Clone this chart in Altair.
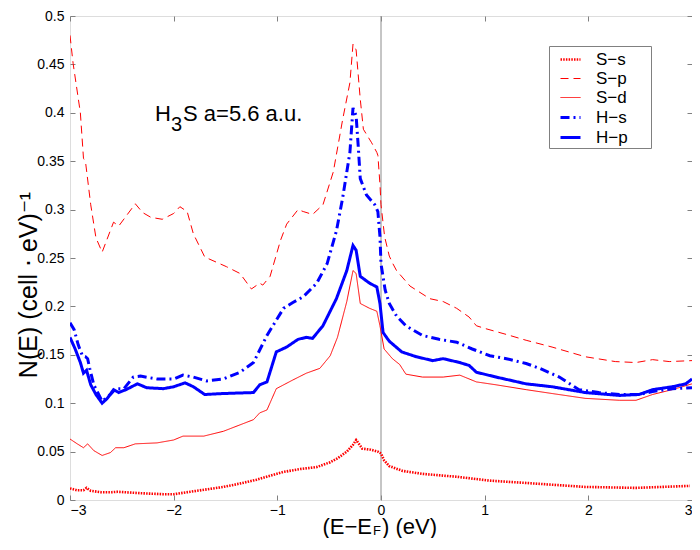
import altair as alt
import pandas as pd

FONT = "Liberation Sans"

series_names = ["S−s", "S−p", "S−d", "H−s", "H−p"]
series_colors = ["#ff0000", "#ff0000", "#ff0000", "#0000ff", "#0000ff"]
series_dash = [[1.5, 1.2], [8, 5], [1, 0], [9, 4, 2, 4], [1, 0]]
series_width = [2.6, 1.0, 1.0, 3.0, 3.0]

ss_x = [-3.00, -2.93, -2.87, -2.84, -2.80, -2.70, -2.60, -2.54, -2.32, -2.10, -2.00, -1.84, -1.68,
        -1.52, -1.36, -1.20, -1.04, -0.94, -0.78, -0.62, -0.49, -0.42, -0.33, -0.27, -0.24, -0.22,
        -0.18, -0.10, -0.03, 0.00, 0.03, 0.08, 0.21, 0.40, 0.73, 1.05, 1.40, 1.97, 2.46, 2.98]
ss_y = [0.012, 0.010, 0.010, 0.0125, 0.0095, 0.008, 0.008, 0.0085, 0.007, 0.006, 0.006, 0.0085, 0.011,
        0.0135, 0.017, 0.021, 0.026, 0.029, 0.032, 0.034, 0.039, 0.043, 0.050, 0.057, 0.062, 0.059,
        0.053, 0.052, 0.050, 0.048, 0.041, 0.035, 0.030, 0.027, 0.024, 0.020, 0.0176, 0.0135, 0.0125, 0.0146]

sp_x = [-3.00, -2.97, -2.90, -2.87, -2.85, -2.80, -2.75, -2.69, -2.58, -2.53, -2.37, -2.30, -2.22,
        -2.11, -2.00, -1.94, -1.87, -1.81, -1.70, -1.49, -1.36, -1.25, -1.17, -1.14, -1.07, -0.97,
        -0.91, -0.80, -0.75, -0.66, -0.56, -0.46, -0.37, -0.30, -0.27, -0.24, -0.20, -0.17, -0.09,
        -0.04, -0.03, -0.01, 0.00, 0.035, 0.08, 0.115, 0.15, 0.28, 0.47, 0.60, 0.73, 0.85, 0.92,
        1.01, 1.21, 1.40, 1.65, 1.97, 2.26, 2.46, 2.62, 2.78, 3.00]
sp_y = [0.480, 0.451, 0.400, 0.353, 0.349, 0.305, 0.271, 0.256, 0.287, 0.283, 0.306, 0.297, 0.292,
        0.290, 0.296, 0.303, 0.298, 0.275, 0.251, 0.241, 0.234, 0.218, 0.224, 0.222, 0.231, 0.268,
        0.285, 0.300, 0.298, 0.295, 0.305, 0.339, 0.393, 0.431, 0.471, 0.465, 0.414, 0.383, 0.369,
        0.359, 0.356, 0.326, 0.305, 0.272, 0.252, 0.244, 0.237, 0.221, 0.208, 0.205, 0.198, 0.189, 0.180,
        0.177, 0.171, 0.165, 0.158, 0.148, 0.143, 0.142, 0.145, 0.143, 0.144]

sd_x = [-3.00, -2.93, -2.87, -2.83, -2.77, -2.69, -2.61, -2.56, -2.48, -2.37, -2.16, -2.00, -1.91,
        -1.71, -1.52, -1.23, -1.17, -1.10, -1.01, -0.85, -0.72, -0.59, -0.49, -0.42, -0.33, -0.27,
        -0.24, -0.20, -0.11, -0.04, -0.01, 0.03, 0.11, 0.18, 0.24, 0.40, 0.60, 0.76, 0.92, 1.11,
        1.40, 1.65, 1.97, 2.30, 2.46, 2.62, 2.81, 3.00]
sd_y = [0.063, 0.058, 0.054, 0.058, 0.051, 0.046, 0.049, 0.054, 0.054, 0.058, 0.059, 0.062, 0.066,
        0.066, 0.071, 0.083, 0.090, 0.093, 0.115, 0.124, 0.131, 0.136, 0.149, 0.168, 0.205, 0.237,
        0.234, 0.203, 0.198, 0.195, 0.180, 0.156, 0.146, 0.140, 0.130, 0.127, 0.127, 0.129, 0.122, 0.119,
        0.114, 0.110, 0.105, 0.103, 0.103, 0.109, 0.114, 0.120]

hs_x = [-3.00, -2.96, -2.92, -2.88, -2.85, -2.83, -2.81, -2.77, -2.69, -2.61, -2.56, -2.48, -2.39,
        -2.32, -2.16, -2.00, -1.91, -1.81, -1.68, -1.52, -1.36, -1.23, -1.10, -0.94, -0.85, -0.75,
        -0.62, -0.52, -0.43, -0.37, -0.30, -0.27, -0.24, -0.22, -0.20, -0.14, -0.06, -0.03, -0.01,
        0.00, 0.04, 0.08, 0.15, 0.24, 0.40, 0.56, 0.73, 0.88, 1.05, 1.21, 1.40, 1.53, 1.72, 1.91,
        2.10, 2.30, 2.49, 2.62, 2.81, 3.00]
hs_y = [0.183, 0.176, 0.160, 0.149, 0.148, 0.146, 0.136, 0.119, 0.102, 0.109, 0.115, 0.115, 0.127,
        0.128, 0.125, 0.125, 0.129, 0.127, 0.123, 0.125, 0.132, 0.142, 0.170, 0.198, 0.204, 0.210,
        0.224, 0.244, 0.278, 0.312, 0.359, 0.405, 0.397, 0.366, 0.332, 0.315, 0.305, 0.298, 0.272,
        0.244, 0.217, 0.203, 0.190, 0.180, 0.170, 0.166, 0.163, 0.156, 0.149, 0.146, 0.141, 0.136, 0.127, 0.114,
        0.111, 0.109, 0.109, 0.112, 0.115, 0.116]

hp_x = [-3.00, -2.95, -2.90, -2.87, -2.84, -2.80, -2.75, -2.69, -2.64, -2.58, -2.53, -2.46, -2.35,
        -2.26, -2.10, -2.00, -1.89, -1.81, -1.70, -1.52, -1.23, -1.17, -1.10, -1.01, -0.91, -0.80,
        -0.72, -0.66, -0.56, -0.43, -0.33, -0.27, -0.24, -0.20, -0.11, -0.04, -0.01, 0.02, 0.08,
        0.20, 0.34, 0.50, 0.60, 0.76, 0.85, 0.92, 1.11, 1.40, 1.65, 1.97, 2.30, 2.49, 2.62, 2.81,
        2.94, 3.00]
hp_y = [0.168, 0.156, 0.142, 0.131, 0.134, 0.119, 0.109, 0.100, 0.105, 0.114, 0.111, 0.114, 0.120,
        0.116, 0.115, 0.117, 0.121, 0.117, 0.109, 0.110, 0.111, 0.119, 0.122, 0.153, 0.158, 0.166,
        0.168, 0.167, 0.180, 0.208, 0.237, 0.263, 0.258, 0.231, 0.224, 0.220, 0.203, 0.173, 0.164,
        0.153, 0.148, 0.144, 0.146, 0.142, 0.139, 0.132, 0.127, 0.120, 0.117, 0.111, 0.108, 0.109, 0.114, 0.117,
        0.120, 0.125]

x_ticks = [-3, -2, -1, 0, 1, 2, 3]
y_ticks = [0, 0.05, 0.1, 0.15, 0.2, 0.25, 0.3, 0.35, 0.4, 0.45, 0.5]
fermi_level = [0.0]

annot_x = [-2.18]
annot_y = [0.392]
annot_parts = ["H", "3", "S a=5.6 a.u."]

rows = []
for name, xs, ys in zip(series_names, [ss_x, sp_x, sd_x, hs_x, hp_x], [ss_y, sp_y, sd_y, hs_y, hp_y]):
    for xv, yv in zip(xs, ys):
        rows.append({"series": name, "x": xv, "y": yv})
df = pd.DataFrame(rows)

W, H = 622, 484
GRAY = "#808080"

xscale = alt.Scale(domain=[-3, 3], nice=False, zero=False)
yscale = alt.Scale(domain=[0, 0.5], nice=False, zero=True)

common_axis = dict(domain=False, grid=False, tickSize=5, offset=-5, tickColor=GRAY,
                   labelFont=FONT, labelFontSize=14, labelColor="black", title=None)

bottom_axis = alt.Axis(orient="bottom", values=x_ticks, format="d", labelPadding=3, **common_axis)
left_axis = alt.Axis(orient="left", values=y_ticks, format="~g", labelPadding=6, **common_axis)
top_axis = alt.Axis(orient="top", values=x_ticks, labels=False, **common_axis)
right_axis = alt.Axis(orient="right", values=y_ticks, labels=False, **common_axis)

legend = alt.Legend(title=None, orient="none", legendX=479, legendY=30, symbolType="stroke",
                    symbolSize=400, symbolOffset=8, labelFont=FONT, labelFontSize=17, labelColor="black",
                    labelExpr="datum.label + '\u2003\u2009\u200b'",
                    strokeColor=GRAY, fillColor="white", padding=2, rowPadding=0, labelOffset=14)

lines = alt.Chart(df).mark_line(clip=True).encode(
    x=alt.X("x:Q", scale=xscale, axis=bottom_axis),
    y=alt.Y("y:Q", scale=yscale, axis=left_axis),
    color=alt.Color("series:N", scale=alt.Scale(domain=series_names, range=series_colors), legend=legend),
    strokeDash=alt.StrokeDash("series:N", scale=alt.Scale(domain=series_names, range=series_dash), legend=legend),
    strokeWidth=alt.StrokeWidth("series:N", scale=alt.Scale(type="ordinal", domain=series_names, range=series_width),
                                legend=legend),
    order=alt.Order("x:Q"),
)

rule = alt.Chart(pd.DataFrame({"x": fermi_level})).mark_rule(color="#8c8c8c", strokeWidth=1).encode(
    x=alt.X("x:Q", scale=xscale, axis=top_axis),
)

annot_df = pd.DataFrame({"x": annot_x, "y": annot_y})
ann_h = alt.Chart(annot_df).mark_text(text=annot_parts[0], align="left", baseline="alphabetic",
                                      font=FONT, fontSize=22, color="black").encode(
    x=alt.X("x:Q", scale=xscale, axis=None),
    y=alt.Y("y:Q", scale=yscale, axis=right_axis),
)
ann_3 = alt.Chart(annot_df).mark_text(text=annot_parts[1], align="left", baseline="alphabetic",
                                      font=FONT, fontSize=20, color="black", dx=16, dy=10).encode(
    x=alt.X("x:Q", scale=xscale, axis=None),
    y=alt.Y("y:Q", scale=yscale, axis=None),
)
ann_s = alt.Chart(annot_df).mark_text(text=annot_parts[2], align="left", baseline="alphabetic",
                                      font=FONT, fontSize=22, color="black", dx=28).encode(
    x=alt.X("x:Q", scale=xscale, axis=None),
    y=alt.Y("y:Q", scale=yscale, axis=None),
)

one = pd.DataFrame({"k": [0]})
xt1 = alt.Chart(one).mark_text(text="(E−E", align="right", baseline="alphabetic", font=FONT,
                               fontSize=22, color="black").encode(x=alt.value(302), y=alt.value(518))
xt2 = alt.Chart(one).mark_text(text="F", align="left", baseline="alphabetic", font=FONT,
                               fontSize=13, color="black").encode(x=alt.value(303), y=alt.value(519))
xt3 = alt.Chart(one).mark_text(text=") (eV)", align="left", baseline="alphabetic", font=FONT,
                               fontSize=22, color="black").encode(x=alt.value(312), y=alt.value(518))
yt = alt.Chart(one).mark_text(text="N(E) (cell ⋅ eV)⁻¹", align="center", baseline="alphabetic", font=FONT,
                              fontSize=25, color="black", angle=270).encode(x=alt.value(-33), y=alt.value(269))

chart = alt.layer(rule, lines, ann_h, ann_3, ann_s, xt1, xt2, xt3, yt).resolve_axis(
    x="independent", y="independent"
).properties(
    width=W, height=H,
    autosize=alt.AutoSizeParams(type="none"),
    padding={"left": 62, "top": 8, "right": 0, "bottom": 38},
).configure_view(stroke=GRAY, strokeWidth=1).configure(background="white")

chart.save("out.html", embed_options={"renderer": "svg", "actions": False})
